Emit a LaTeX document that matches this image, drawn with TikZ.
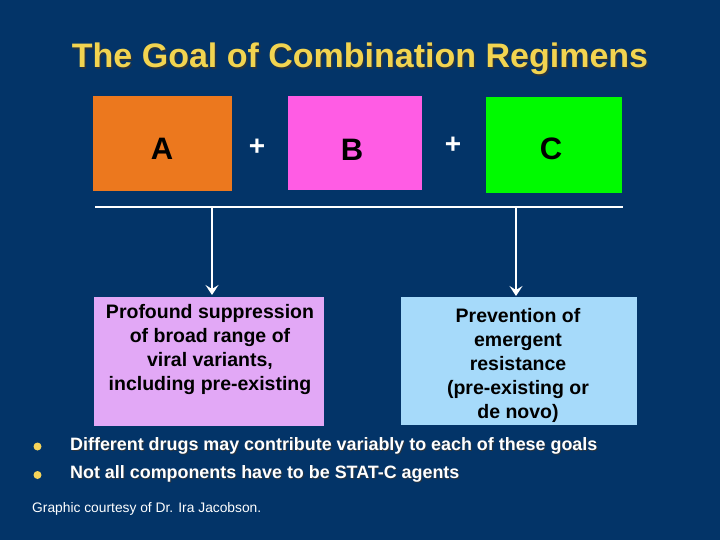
\documentclass[tikz,border=0pt]{standalone}
\usepackage{fontspec}
\setmainfont{Liberation Sans}
\usetikzlibrary{arrows.meta}
\definecolor{bg}{RGB}{3,52,104}
\definecolor{ttl}{RGB}{242,212,80}
\definecolor{orng}{RGB}{236,120,30}
\definecolor{pnk}{RGB}{255,92,228}
\definecolor{grn}{RGB}{0,250,0}
\definecolor{lav}{RGB}{226,168,246}
\definecolor{lblue}{RGB}{166,218,250}
\definecolor{bul}{RGB}{246,212,90}
\tikzset{
  drugbox/.style={rectangle, inner sep=0pt, anchor=north west},
  letter/.style={font=\bfseries\fontsize{31}{36}\selectfont, text=black},
  plus/.style={font=\bfseries\fontsize{28}{34}\selectfont, text=white},
  goalbox/.style={rectangle, inner sep=0pt, anchor=north west},
  goaltxt/.style={font=\bfseries\fontsize{19.5}{24}\selectfont, align=center, text=black, anchor=north, inner sep=0pt},
  conn/.style={draw=white, line width=1.6pt},
  arr/.style={draw=white, line width=1.6pt, -{Stealth[length=10pt,width=13pt,inset=4pt]}},
  shadowtxt/.style={text=black!80, opacity=0.8},
  bullettxt/.style={font=\bfseries\fontsize{17.9}{21}\selectfont, anchor=west, inner sep=0pt},
}
\begin{document}
\begin{tikzpicture}[x=1pt,y=-1pt]
\fill[bg] (0,0) rectangle (720,540);
\useasboundingbox (0,0) rectangle (720,540);
% title
\node[shadowtxt, font=\bfseries\fontsize{34}{38}\selectfont] at (361.5,60.5) {The Goal of Combination Regimens};
\node[text=ttl, font=\bfseries\fontsize{34}{38}\selectfont] (title) at (360,59) {The Goal of Combination Regimens};
% drug boxes
\node[drugbox, fill=orng, minimum width=139pt, minimum height=95pt] (A) at (93,96) {};
\node[drugbox, fill=pnk, minimum width=134pt, minimum height=94pt] (B) at (288,96) {};
\node[drugbox, fill=grn, minimum width=136pt, minimum height=96pt] (C) at (486,97) {};
\node[letter] (la) at (162,149) {A};
\node[letter] (lb) at (352,150) {B};
\node[letter] (lc) at (551,149) {C};
\node[plus] (p1) at (257,147) {+};
\node[plus] (p2) at (453,145) {+};
% line and arrows
\coordinate (hl) at (95,207);
\coordinate (hr) at (623,207);
\coordinate (d1) at (212,207);
\coordinate (d2) at (516,207);
\draw[conn] (hl) -- (hr);
% goal boxes
\node[goalbox, fill=lav, minimum width=230pt, minimum height=129pt] (G1) at (94,297) {};
\node[goalbox, fill=lblue, minimum width=236pt, minimum height=128pt] (G2) at (401,297) {};
\node[goaltxt] (t1) at (210,304) {Profound suppression\\of broad range of\\viral variants,\\including pre-existing};
\node[goaltxt] (t2) at (518,308) {Prevention of\\emergent\\resistance\\(pre-existing or\\de novo)};
\coordinate (e1) at (212,295);
\coordinate (e2) at (516,296);
\draw[arr] (d1) -- (e1);
\draw[arr] (d2) -- (e2);
% bullets
\fill[bul] (37.5,446.5) circle (4pt);
\fill[bul] (37.5,475) circle (4pt);
\node[bullettxt, shadowtxt] at (71,447) {Different drugs may contribute variably to each of these goals};
\node[bullettxt, text=white] (b1) at (70,446) {Different drugs may contribute variably to each of these goals};
\node[bullettxt, shadowtxt] at (71,475) {Not all components have to be STAT-C agents};
\node[bullettxt, text=white] (b2) at (70,474) {Not all components have to be STAT-C agents};
% footnote
\node[anchor=west, inner sep=0pt, text=white, font=\fontsize{13.8}{16}\selectfont] (fn) at (32,509) {Graphic courtesy of Dr. Ira Jacobson.};
\end{tikzpicture}
\end{document}
